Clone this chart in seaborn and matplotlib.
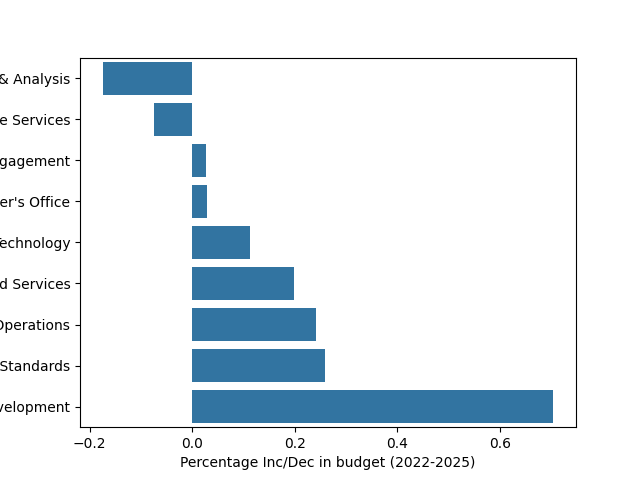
import matplotlib
matplotlib.use('Agg')
import matplotlib.pyplot as plt
import seaborn as sns
import pandas as pd

departments = ['Research & Analysis', 'Corporate Services', 'Public Engagement',
               "Commissioner's Office", 'Information Technology', 'Shared Services',
               'Field Operations', 'Policy & Standards', 'Economic Development']
pct_change = [-0.175, -0.074, 0.026, 0.028, 0.112, 0.198, 0.241, 0.26, 0.705]

df = pd.DataFrame({'Department': departments, 'Pct': pct_change})

fig, ax = plt.subplots(figsize=(6.4, 4.8), dpi=100)
sns.barplot(data=df, x='Pct', y='Department', ax=ax)
ax.set_xlabel('Percentage Inc/Dec in budget (2022-2025)')
ax.set_ylabel('')
fig.savefig('out.png')
